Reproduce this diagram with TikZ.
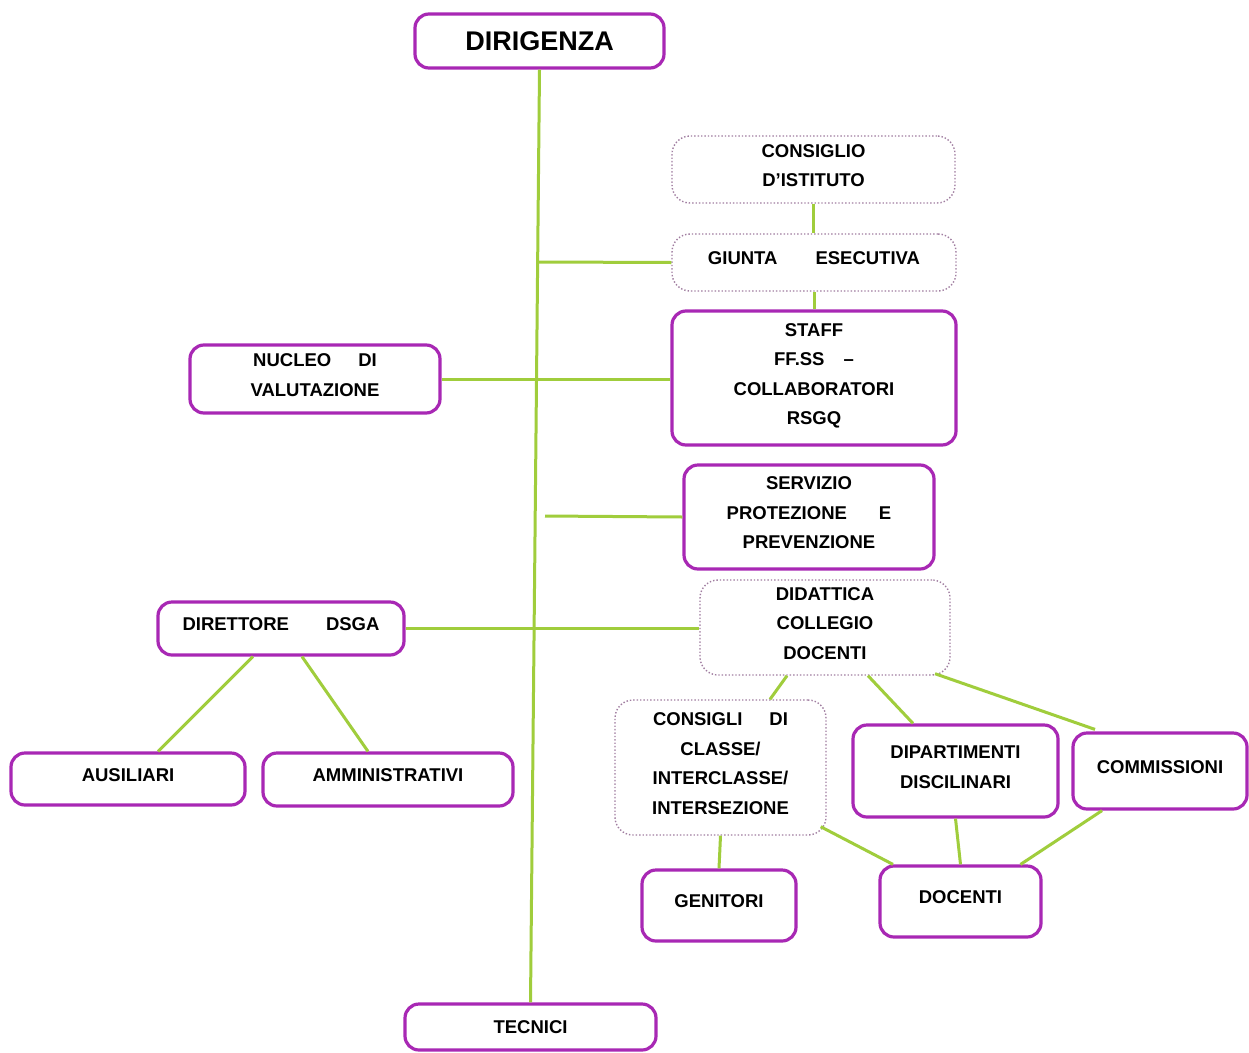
\documentclass[tikz,border=0pt]{standalone}
\usepackage{fontspec}
\setmainfont{Liberation Sans}
\definecolor{purp}{RGB}{168,40,180}
\definecolor{grn}{RGB}{160,205,60}
\definecolor{dotc}{RGB}{160,125,160}
\begin{document}
\begin{tikzpicture}[x=1pt,y=-1pt,
  txt/.style={inner sep=0pt, align=center, text depth=8pt, font=\bfseries\fontsize{18.5}{29.5}\selectfont},
  box/.style={txt, draw=purp, line width=3.2pt, rounded corners=14pt},
  dbox/.style={txt, draw=dotc, line width=1.4pt, dotted, rounded corners=18pt},
  conn/.style={draw=grn, line width=3pt}]
\useasboundingbox[fill=white] (0,0) rectangle (1249,1052);
% boxes
\node[box, minimum width=249pt, minimum height=54pt, text depth=0pt, font=\bfseries\fontsize{27}{30}\selectfont] (dir) at (539.5,41) {DIRIGENZA};
\node[dbox, minimum width=283pt, minimum height=67pt] (cons) at (813.5,169.5) {CONSIGLIO\\D'ISTITUTO};
\node[dbox, minimum width=284pt, minimum height=57pt] (giunta) at (814,262.5) {GIUNTA\hspace{38pt}ESECUTIVA};
\node[box, minimum width=284pt, minimum height=134pt] (staff) at (814,378) {STAFF\\FF.SS\hspace{19pt}--\\COLLABORATORI\\RSGQ};
\node[box, minimum width=250pt, minimum height=68pt] (nucleo) at (315,379) {NUCLEO\hspace{27pt}DI\\VALUTAZIONE};
\node[box, minimum width=250pt, minimum height=104pt] (serv) at (809,517) {SERVIZIO\\PROTEZIONE\hspace{32pt}E\\PREVENZIONE};
\node[dbox, minimum width=250pt, minimum height=95pt] (did) at (825,627.5) {DIDATTICA\\COLLEGIO\\DOCENTI};
\node[box, minimum width=246pt, minimum height=53pt] (dsga) at (281,628.5) {DIRETTORE\hspace{37pt}DSGA};
\node[box, minimum width=234pt, minimum height=52pt] (aus) at (128,779) {AUSILIARI};
\node[box, minimum width=250pt, minimum height=53pt] (amm) at (388,779.5) {AMMINISTRATIVI};
\node[dbox, minimum width=211pt, minimum height=135pt] (csg) at (720.5,767.5) {CONSIGLI\hspace{27pt}DI\\CLASSE/\\INTERCLASSE/\\INTERSEZIONE};
\node[box, minimum width=205pt, minimum height=92pt] (dip) at (955.5,771) {DIPARTIMENTI\\DISCILINARI};
\node[box, minimum width=174pt, minimum height=76pt] (comm) at (1160,771) {COMMISSIONI};
\node[box, minimum width=154pt, minimum height=71pt] (gen) at (719,905.5) {GENITORI};
\node[box, minimum width=161pt, minimum height=71pt] (doc) at (960.5,901.5) {DOCENTI};
\node[box, minimum width=251pt, minimum height=46pt, text depth=0pt] (tec) at (530.5,1027) {TECNICI};
% branch points
\coordinate (j1) at (537,262);
\coordinate (j2) at (545,516);
% connectors
\draw[conn] (dir.south) -- (tec.north);
\draw[conn] (cons.south) -- (cons.south |- giunta.north);
\draw[conn] (giunta.south) -- (giunta.south |- staff.north);
\draw[conn] (j1) -- (giunta.west);
\draw[conn] (nucleo.east) -- (nucleo.east -| staff.west);
\draw[conn] (j2) -- (serv.west);
\draw[conn] (dsga.east) -- (dsga.east -| did.west);
\draw[conn] ([xshift=-28pt]dsga.south) -- ([xshift=30pt]aus.north);
\draw[conn] ([xshift=21pt]dsga.south) -- ([xshift=-20pt]amm.north);
\draw[conn] ([xshift=-38pt]did.south) -- ([xshift=49.5pt]csg.north);
\draw[conn] ([xshift=43pt]did.south) -- ([xshift=-42.5pt]dip.north);
\draw[conn] ([xshift=110pt,yshift=2pt]did.south) -- ([xshift=-65pt,yshift=2pt]comm.north);
\draw[conn] (csg.south) -- (gen.north);
\draw[conn] ([shift={(-6,-9)}]csg.south east) -- ([xshift=-67.5pt]doc.north);
\draw[conn] (dip.south) -- (doc.north);
\draw[conn] ([xshift=-58pt]comm.south) -- ([xshift=60pt]doc.north);
\end{tikzpicture}
\end{document}
